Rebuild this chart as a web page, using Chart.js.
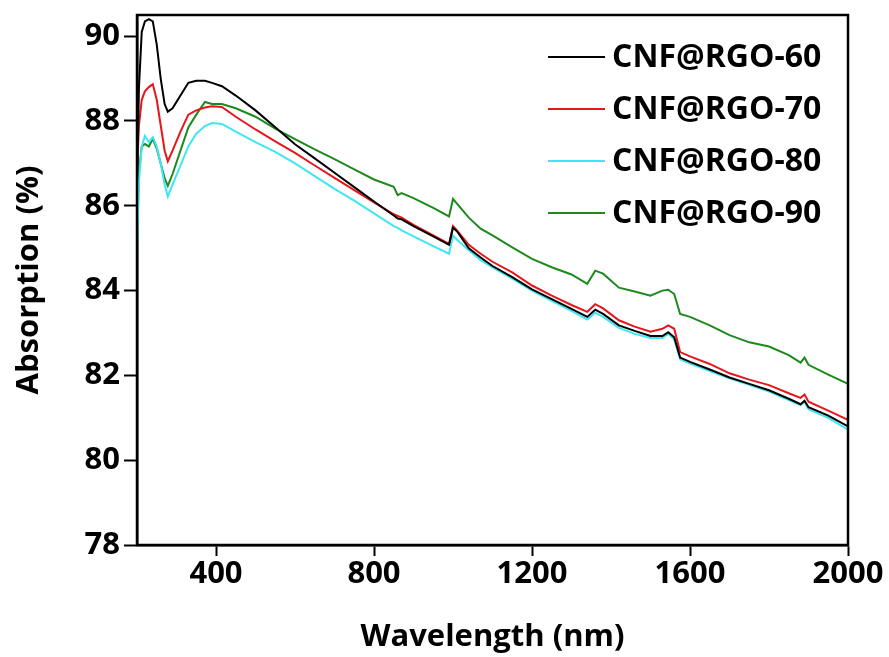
<!DOCTYPE html>
<html>
<head>
<meta charset="utf-8">
<script src="https://cdn.jsdelivr.net/npm/chart.js@4"></script>
<style>
  html, body { margin: 0; padding: 0; background: #fff; }
  #wrap { width: 889px; height: 657px; }
</style>
</head>
<body>
<div id="wrap"><canvas id="chart" width="889" height="657"></canvas></div>
<script>
// DATA
const wavelength = [200, 205, 212, 220, 230, 240, 250, 260, 270, 278, 290, 310, 330, 350, 372, 390, 415, 450, 500, 550,
  600, 650, 700, 750, 800, 850, 860, 870, 900, 950, 990, 1000, 1010, 1040, 1070, 1100, 1150, 1200, 1250, 1300,
  1340, 1360, 1380, 1420, 1460, 1500, 1530, 1545, 1560, 1575, 1600, 1650, 1700, 1750, 1800, 1850, 1880, 1890, 1900, 1950, 2000];

const rgo60 = [86.5, 88.8, 90.1, 90.35, 90.4, 90.35, 89.8, 89.0, 88.4, 88.22, 88.3, 88.6, 88.9, 88.95, 88.95, 88.9, 88.82, 88.6, 88.25, 87.85,
  87.45, 87.12, 86.78, 86.44, 86.1, 85.77, 85.7, 85.68, 85.52, 85.28, 85.08, 85.48, 85.4, 85.0, 84.78, 84.58, 84.32, 84.03, 83.8, 83.57,
  83.38, 83.55, 83.45, 83.18, 83.05, 82.93, 82.93, 83.02, 82.9, 82.42, 82.32, 82.14, 81.95, 81.8, 81.65, 81.45, 81.32, 81.4, 81.25, 81.05, 80.8];

const rgo70 = [86.8, 87.9, 88.5, 88.7, 88.8, 88.87, 88.5, 87.9, 87.3, 87.05, 87.3, 87.75, 88.15, 88.25, 88.32, 88.35, 88.33, 88.1, 87.8, 87.52,
  87.25, 86.95, 86.66, 86.37, 86.08, 85.8, 85.76, 85.72, 85.55, 85.3, 85.1, 85.52, 85.42, 85.08, 84.87, 84.68, 84.43, 84.12, 83.88, 83.66,
  83.5, 83.68, 83.58, 83.3, 83.15, 83.03, 83.1, 83.18, 83.1, 82.55, 82.45, 82.27, 82.05, 81.9, 81.77, 81.58, 81.47, 81.55, 81.38, 81.17, 80.95];

const rgo80 = [85.0, 86.6, 87.4, 87.65, 87.5, 87.62, 87.4, 87.0, 86.5, 86.22, 86.5, 86.95, 87.4, 87.7, 87.88, 87.95, 87.93, 87.75, 87.5, 87.27,
  87.0, 86.7, 86.4, 86.12, 85.82, 85.52, 85.48, 85.42, 85.28, 85.05, 84.87, 85.3, 85.2, 84.95, 84.72, 84.55, 84.28, 84.0, 83.76, 83.52,
  83.32, 83.48, 83.38, 83.12, 82.98, 82.88, 82.88, 82.98, 82.85, 82.38, 82.28, 82.1, 81.93, 81.78, 81.62, 81.42, 81.3, 81.38, 81.2, 81.0, 80.72];

const rgo90 = [85.0, 86.8, 87.4, 87.46, 87.4, 87.58, 87.35, 87.0, 86.65, 86.47, 86.75, 87.3, 87.85, 88.15, 88.45, 88.4, 88.4, 88.3, 88.1, 87.82,
  87.57, 87.33, 87.1, 86.86, 86.62, 86.45, 86.25, 86.3, 86.18, 85.95, 85.75, 86.16, 86.05, 85.72, 85.46, 85.3, 85.02, 84.75, 84.55, 84.38,
  84.16, 84.47, 84.4, 84.07, 83.98, 83.88, 84.0, 84.02, 83.92, 83.45, 83.38, 83.18, 82.95, 82.78, 82.68, 82.48, 82.3, 82.42, 82.25, 82.02, 81.8];

const seriesNames = ['CNF@RGO-60', 'CNF@RGO-70', 'CNF@RGO-80', 'CNF@RGO-90'];
const seriesColors = ['#000000', '#e8161b', '#3fe6f2', '#1e8a1e'];
const xTicks = [400, 800, 1200, 1600, 2000];
const yTicks = [78, 80, 82, 84, 86, 88, 90];

const FONT = '"Open Sans", Lato, sans-serif';

function toPoints(values){
    return wavelength.map((w, i) => ({ x: w, y: values[i] }));
}

// FRAME + LEGEND PLUGIN
const framePlugin = {
    id: 'frame',
    afterDraw(chart){
        const { ctx, chartArea: a } = chart;
        ctx.save();
        ctx.strokeStyle = '#000';
        ctx.lineWidth = 2.5;
        ctx.strokeRect(a.left, a.top, a.right - a.left, a.bottom - a.top);

        // legend inside top right
        ctx.font = 'bold 32px ' + FONT;
        ctx.textBaseline = 'middle';
        chart.data.datasets.forEach((ds, i) => {
            const y = 57 + i * 52;
            ctx.strokeStyle = ds.borderColor;
            ctx.lineWidth = 2;
            ctx.beginPath();
            ctx.moveTo(548, y);
            ctx.lineTo(605, y);
            ctx.stroke();
            ctx.fillStyle = '#000';
            ctx.fillText(ds.label, 612, y + 1);
        });
        ctx.restore();
    }
};

const datasets = [rgo60, rgo70, rgo80, rgo90].map((vals, i) => ({
    label: seriesNames[i],
    data: toPoints(vals),
    borderColor: seriesColors[i],
    borderWidth: 2,
    pointRadius: 0,
    tension: 0,
    fill: false
}));

new Chart(document.getElementById('chart').getContext('2d'), {
    type: 'line',
    data: { datasets },
    options: {
        responsive: false,
        animation: false,
        layout: { padding: { top: 15, right: 41, left: 0, bottom: 0 } },
        plugins: {
            legend: { display: false },
            tooltip: { enabled: false }
        },
        scales: {
            x: {
                type: 'linear',
                min: 200,
                max: 2000,
                afterBuildTicks: s => { s.ticks = xTicks.map(v => ({ value: v })); },
                afterFit: s => { s.height = 112; s.paddingLeft = 0; s.paddingRight = 0; },
                grid: { drawOnChartArea: false, drawTicks: true, tickLength: 11, tickColor: '#000', tickWidth: 2 },
                border: { display: true, color: '#000', width: 2.5 },
                ticks: { color: '#000', font: { family: FONT, size: 31, weight: 'bold' }, padding: 0, maxRotation: 0,
                         callback: v => String(v) },
                title: { display: true, text: 'Wavelength (nm)', color: '#000', font: { family: FONT, size: 31, weight: 'bold' }, padding: { top: 0, bottom: 1 } }
            },
            y: {
                min: 78,
                max: 90.5,
                afterBuildTicks: s => { s.ticks = yTicks.map(v => ({ value: v })); },
                afterFit: s => { s.width = 137; s.paddingTop = 0; s.paddingBottom = 0; },
                grid: { drawOnChartArea: false, drawTicks: true, tickLength: 13, tickColor: '#000', tickWidth: 2 },
                border: { display: true, color: '#000', width: 2.5 },
                ticks: { color: '#000', font: { family: FONT, size: 31, weight: 'bold' }, padding: 4,
                         callback: v => String(v) },
                title: { display: true, text: 'Absorption (%)', color: '#000', font: { family: FONT, size: 31, weight: 'bold' }, padding: { top: 11, bottom: 0 } }
            }
        }
    },
    plugins: [framePlugin]
});
</script>
</body>
</html>
